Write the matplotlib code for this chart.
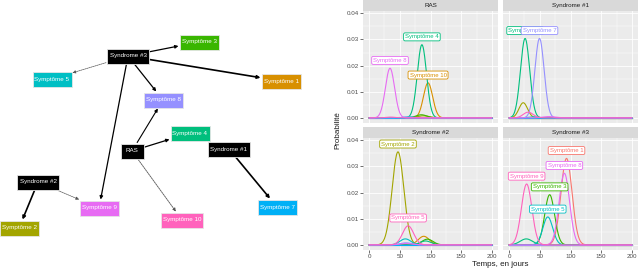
import matplotlib
matplotlib.use('Agg')
import matplotlib.pyplot as plt
from matplotlib.patches import Rectangle
import numpy as np

plt.rcParams['font.family'] = ['Liberation Sans', 'DejaVu Sans']

W, H = 640, 269
fig = plt.figure(figsize=(W / 100, H / 100), dpi=100)
fig.patch.set_facecolor('white')

# ---- network (left) ----
node_names = ['Syndrome #3', 'Symptôme 3', 'Symptôme 5', 'Symptôme 1', 'Symptôme 8',
              'Symptôme 4', 'RAS', 'Syndrome #1', 'Syndrome #2', 'Symptôme 9',
              'Symptôme 10', 'Symptôme 7', 'Symptôme 2']
node_x = [128, 199, 52, 281, 163, 190, 132, 229, 38, 99, 182, 277, 19]
node_y = [56, 42, 79, 81, 100, 133, 151, 149, 182, 208, 220, 207, 228]
node_colors = ['black', '#39B600', '#00BFC4', '#D89000', '#9590FF', '#00BF7D', 'black',
               'black', 'black', '#E76BF3', '#FF62BC', '#00B0F6', '#A3A500']

edge_src = ['Syndrome #3', 'Syndrome #3', 'Syndrome #3', 'Syndrome #3', 'Syndrome #3',
            'RAS', 'RAS', 'RAS', 'Syndrome #1', 'Syndrome #2', 'Syndrome #2']
edge_dst = ['Symptôme 3', 'Symptôme 5', 'Symptôme 1', 'Symptôme 8', 'Symptôme 9',
            'Symptôme 8', 'Symptôme 4', 'Symptôme 10', 'Symptôme 7', 'Symptôme 2', 'Symptôme 9']
edge_weight = [0.6, 0.2, 0.9, 0.6, 0.6, 0.5, 0.6, 0.3, 0.9, 0.9, 0.2]

ax = fig.add_axes([0, 0, 312 / W, 1])
ax.set_xlim(0, 312)
ax.set_ylim(H, 0)
ax.axis('off')

def box_size(name):
    return max(23, 3.0 * len(name) + 9), 15

pos = {n: (x, y) for n, x, y in zip(node_names, node_x, node_y)}

def clip(p, q, name):
    # point on the border of box `name` (centred at p) along p->q
    w, h = box_size(name)
    dx, dy = q[0] - p[0], q[1] - p[1]
    t = min((w / 2 + 1) / abs(dx) if dx else 1e9, (h / 2 + 1) / abs(dy) if dy else 1e9)
    return p[0] + dx * t, p[1] + dy * t

for s, d, wgt in zip(edge_src, edge_dst, edge_weight):
    p, q = pos[s], pos[d]
    a = clip(p, q, s)
    b = clip(q, p, d)
    dashed = wgt < 0.4
    ax.annotate('', xy=b, xytext=a,
                arrowprops=dict(arrowstyle='-|>', lw=0.3 + wgt * 1.0,
                                color='#555555' if dashed else 'black',
                                linestyle=(0, (2, 1)) if dashed else '-',
                                mutation_scale=4.5, shrinkA=0, shrinkB=0))

for n, c in zip(node_names, node_colors):
    x, y = pos[n]
    w, h = box_size(n)
    ax.add_patch(Rectangle((x - w / 2, y - h / 2), w, h, facecolor=c,
                           edgecolor='#e6e6e6', lw=0.6, zorder=5))
    ax.text(x, y, n, color='white', fontsize=4.5, ha='center', va='center', zorder=6)

# ---- density facets (right) ----
levels = ['Symptôme 1', 'Symptôme 10', 'Symptôme 2', 'Symptôme 3', 'Symptôme 4',
          'Symptôme 5', 'Symptôme 6', 'Symptôme 7', 'Symptôme 8', 'Symptôme 9']
hue = ['#F8766D', '#D89000', '#A3A500', '#39B600', '#00BF7D',
       '#00BFC4', '#00B0F6', '#9590FF', '#E76BF3', '#FF62BC']
facets = ['RAS', 'Syndrome #1', 'Syndrome #2', 'Syndrome #3']

# one row per visible bump: facet, symptom, mode (days), spread (days), peak height
c_facet = ['RAS', 'RAS', 'RAS', 'RAS', 'RAS', 'RAS', 'RAS', 'RAS',
           'Syndrome #1', 'Syndrome #1', 'Syndrome #1', 'Syndrome #1', 'Syndrome #1', 'Syndrome #1',
           'Syndrome #2', 'Syndrome #2', 'Syndrome #2', 'Syndrome #2', 'Syndrome #2', 'Syndrome #2',
           'Syndrome #2', 'Syndrome #2',
           'Syndrome #3', 'Syndrome #3', 'Syndrome #3', 'Syndrome #3', 'Syndrome #3', 'Syndrome #3']
c_sym = ['Symptôme 8', 'Symptôme 4', 'Symptôme 10', 'Symptôme 3', 'Symptôme 2', 'Symptôme 5',
         'Symptôme 7', 'Symptôme 9',
         'Symptôme 4', 'Symptôme 7', 'Symptôme 2', 'Symptôme 9', 'Symptôme 8', 'Symptôme 5',
         'Symptôme 2', 'Symptôme 9', 'Symptôme 5', 'Symptôme 10', 'Symptôme 3', 'Symptôme 4',
         'Symptôme 7', 'Symptôme 8',
         'Symptôme 1', 'Symptôme 8', 'Symptôme 9', 'Symptôme 3', 'Symptôme 5', 'Symptôme 4']
c_mode = [34, 86, 96, 85, 88, 65, 60, 35,
          26, 49.5, 23, 31, 65, 40,
          47, 63.5, 59, 89, 95, 92, 60, 60,
          93.5, 90, 28.5, 66, 63, 28]
c_spread = [7.5, 7.5, 7.5, 9, 10, 8, 10, 8,
            7.5, 7.5, 7, 8, 10, 8,
            9.5, 9, 9, 9, 9, 9, 10, 10,
            9, 8.5, 8.5, 8, 8, 10]
c_peak = [0.019, 0.028, 0.0134, 0.0012, 0.0008, 0.0004, 0.0003, 0.0003,
          0.0304, 0.0304, 0.0058, 0.0022, 0.0005, 0.0004,
          0.0356, 0.0073, 0.0023, 0.0033, 0.0022, 0.0015, 0.0008, 0.0005,
          0.0331, 0.0274, 0.0233, 0.0192, 0.0107, 0.0023]
c_label = ['Symptôme 8', 'Symptôme 4', 'Symptôme 10', None, None, None, None, None,
           'Symptôme 4', 'Symptôme 7', None, None, None, None,
           'Symptôme 2', 'Symptôme 5', None, None, None, None, None, None,
           'Symptôme 1', 'Symptôme 8', 'Symptôme 9', 'Symptôme 3', 'Symptôme 5', None]

days = np.linspace(0, 200, 401)

panel_px = {'RAS': (363, 11, 498, 123), 'Syndrome #1': (503, 11, 638, 123),
            'Syndrome #2': (363, 138, 498, 250), 'Syndrome #3': (503, 138, 638, 250)}

def px_axes(x0, y0, x1, y1):
    return fig.add_axes([x0 / W, 1 - y1 / H, (x1 - x0) / W, (y1 - y0) / H])

for f in facets:
    x0, y0, x1, y1 = panel_px[f]
    sax = px_axes(x0, y0 - 11, x1, y0)
    sax.set_facecolor('#D9D9D9')
    sax.set_xticks([]); sax.set_yticks([])
    for sp in sax.spines.values():
        sp.set_visible(False)
    sax.text(0.5, 0.5, f, fontsize=4.5, color='#1A1A1A', ha='center', va='center',
             transform=sax.transAxes)

    pax = px_axes(x0, y0, x1, y1)
    pax.set_facecolor('#EBEBEB')
    for sp in pax.spines.values():
        sp.set_visible(False)
    pax.set_xlim(-10, 210)
    pax.set_ylim(-0.00195, 0.0409)
    pax.set_xticks([0, 50, 100, 150, 200])
    pax.set_xticks([25, 75, 125, 175], minor=True)
    pax.set_yticks([0, 0.01, 0.02, 0.03, 0.04])
    pax.set_yticks([0.005, 0.015, 0.025, 0.035], minor=True)
    pax.set_yticklabels(['0.00', '0.01', '0.02', '0.03', '0.04'])
    pax.grid(which='major', color='white', lw=0.6)
    pax.grid(which='minor', color='white', lw=0.3)
    pax.set_axisbelow(True)
    pax.tick_params(which='major', length=2, width=0.5, color='#333333', labelsize=4.5,
                    labelcolor='#4D4D4D', pad=1)
    pax.tick_params(which='minor', length=0)
    if f in ('RAS', 'Syndrome #1'):
        pax.tick_params(axis='x', which='major', length=0, labelbottom=False)
    if f in ('Syndrome #1', 'Syndrome #3'):
        pax.tick_params(axis='y', which='major', length=0, labelleft=False)

    for lev, col in zip(levels, hue):
        dens = np.zeros_like(days)
        for cf, cs, m, s, pk in zip(c_facet, c_sym, c_mode, c_spread, c_peak):
            if cf == f and cs == lev:
                dens += pk * np.exp(-0.5 * ((days - m) / s) ** 2)
        pax.plot(days, dens, color=col, lw=0.8)

    for cf, cs, m, pk, lab in zip(c_facet, c_sym, c_mode, c_peak, c_label):
        if cf == f and lab is not None:
            col = hue[levels.index(cs)]
            pax.text(m, pk + 0.003, lab, fontsize=4.3, color=col, ha='center', va='center',
                     bbox=dict(boxstyle='round,pad=0.25', facecolor='white', edgecolor=col, lw=0.6))

fig.text(338 / W, 1 - 130 / H, 'Probabilité', rotation=90, fontsize=5.8, color='#1A1A1A',
         ha='center', va='center')
fig.text(500 / W, 1 - 264 / H, 'Temps, en jours', fontsize=5.8, color='#1A1A1A',
         ha='center', va='center')

fig.savefig('out.png', dpi=100, facecolor='white')
plt.close()
